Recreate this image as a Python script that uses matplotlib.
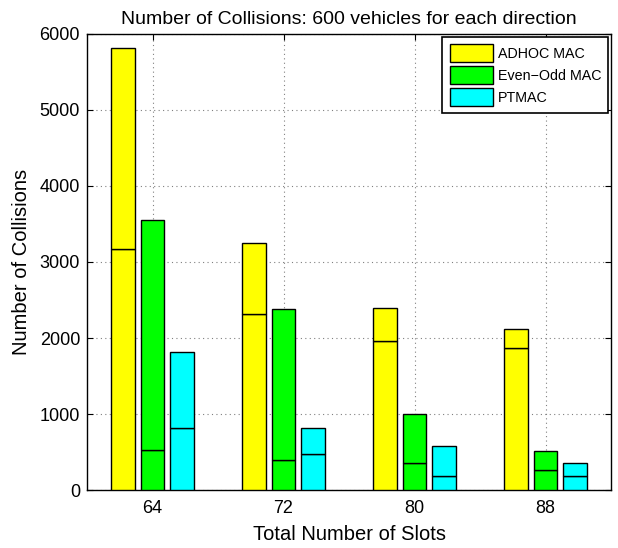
import matplotlib
matplotlib.use("Agg")
import matplotlib.pyplot as plt
import numpy as np

plt.rcParams['font.family'] = ['Liberation Sans', 'DejaVu Sans']

slots = [64, 72, 80, 88]
series = ["ADHOC MAC", "Even\u2212Odd MAC", "PTMAC"]
colors = ["#ffff00", "#00ff00", "#00ffff"]

# total collisions (bar top) and lower segment for each protocol
adhoc_total = [5810, 3250, 2400, 2120]
adhoc_lower = [3170, 2310, 1960, 1870]
evenodd_total = [3550, 2380, 1000, 510]
evenodd_lower = [530, 400, 350, 260]
ptmac_total = [1810, 810, 580, 350]
ptmac_lower = [820, 480, 190, 180]

totals = [adhoc_total, evenodd_total, ptmac_total]
lowers = [adhoc_lower, evenodd_lower, ptmac_lower]

fig = plt.figure(figsize=(6.18, 5.48), dpi=100)
ax = fig.add_axes([0.1408, 0.1058, 0.8479, 0.8322])

x = np.array(slots, dtype=float)
offsets = [-1.8, 0.0, 1.8]
width = 1.45

handles = []
for tot, low, col, off, name in zip(totals, lowers, colors, offsets, series):
    tot = np.array(tot)
    low = np.array(low)
    h = ax.bar(x + off, low, width=width, color=col, edgecolor='black',
               linewidth=1.0, zorder=3, label=name)
    ax.bar(x + off, tot - low, bottom=low, width=width, color=col,
           edgecolor='black', linewidth=1.0, zorder=3)
    handles.append(h)

ax.set_xlim(60, 92)
ax.set_ylim(0, 6000)
ax.set_xticks(slots)
ax.set_yticks(range(0, 6001, 1000))
ax.tick_params(direction='in', length=4, labelsize=13, top=True, right=True,
               labeltop=False, labelright=False)
ax.tick_params(axis='x', pad=7)
ax.tick_params(axis='y', pad=5)
ax.grid(True, linestyle=(0, (1, 3)), color='#808080', linewidth=0.8, zorder=0)
ax.set_axisbelow(True)
for s in ax.spines.values():
    s.set_linewidth(1.0)

ax.set_title("Number of Collisions: 600 vehicles for each direction",
             fontsize=14, pad=7)
ax.set_xlabel("Total Number of Slots", fontsize=14.5, labelpad=6)
ax.set_ylabel("Number of Collisions", fontsize=14.5, labelpad=6)

leg = ax.legend(handles=handles, loc='upper right', fontsize=10.3,
                fancybox=False, framealpha=1, edgecolor='black',
                handlelength=3.05, handleheight=1.6, borderaxespad=0.2,
                labelspacing=0.25, handletextpad=0.3, borderpad=0.5)
leg.get_frame().set_linewidth(1.2)

fig.savefig("out.png", dpi=100)
